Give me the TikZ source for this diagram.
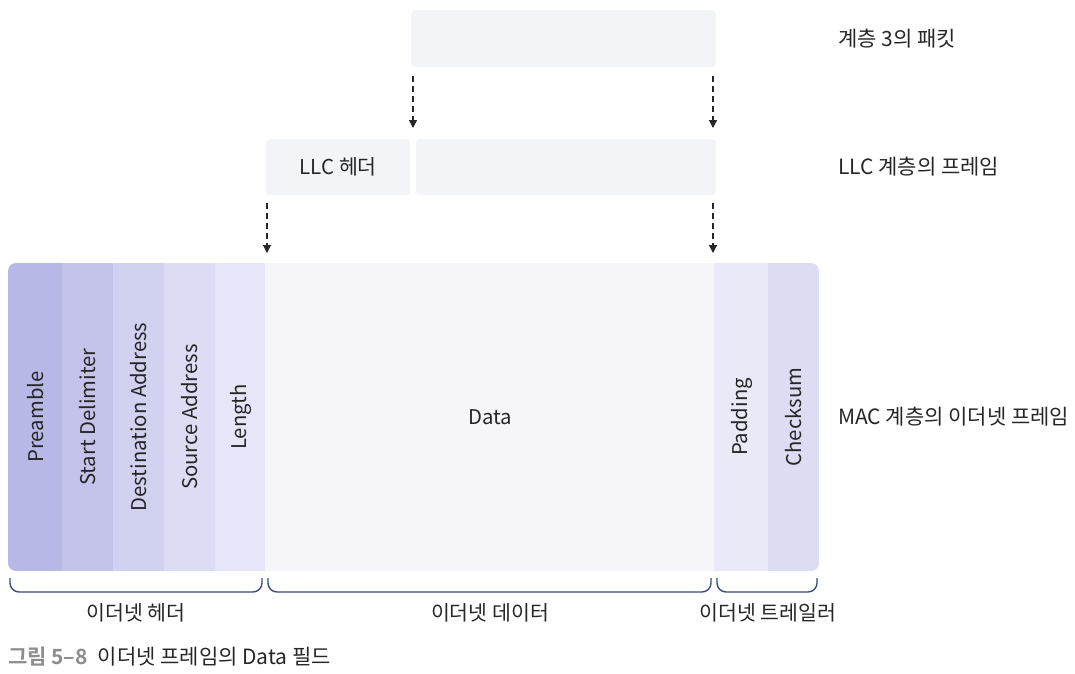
\documentclass[tikz,border=0pt]{standalone}
\usepackage{fontspec}
\setmainfont{Noto Sans CJK KR}[BoldFont={Noto Sans CJK KR Bold}]
\usetikzlibrary{arrows.meta}
\definecolor{txt}{HTML}{262626}
\definecolor{boxc}{HTML}{F3F4F7}
\definecolor{bracec}{HTML}{3D4A7C}
\definecolor{cA}{HTML}{B8B8E6}
\definecolor{cB}{HTML}{C4C4EA}
\definecolor{cC}{HTML}{D1D1F0}
\definecolor{cD}{HTML}{DCDCF4}
\definecolor{cE}{HTML}{E6E6F8}
\definecolor{cF}{HTML}{F6F6FA}
\definecolor{cG}{HTML}{E9E9F8}
\definecolor{cH}{HTML}{DCDCF3}
\definecolor{capg}{HTML}{8C8C8C}
\begin{document}
\begin{tikzpicture}[x=1pt,y=-1pt,
  font=\fontsize{21pt}{24pt}\selectfont, text=txt,
  pbox/.style={fill=boxc, rounded corners=4pt, inner sep=0pt, anchor=north west},
  col/.style={rotate=90, inner sep=0pt, minimum width=308pt, font=\fontsize{20.3pt}{23pt}\selectfont},
  darr/.style={draw=txt, line width=1.1pt, dash pattern=on 6pt off 4pt, -{Triangle[length=8pt,width=8pt]}},
  brc/.style={draw=bracec, line width=1.4pt, rounded corners=9pt},
  lbl/.style={anchor=west, inner sep=0pt},
  blbl/.style={inner sep=0pt}]
\useasboundingbox (0,0) rectangle (1075,673);
% upper boxes
\node[pbox, minimum width=305pt, minimum height=57pt] (l3) at (411,10) {};
\node[pbox, minimum width=144pt, minimum height=56pt, font=\fontsize{20.5pt}{23pt}\selectfont] (llch) at (266,139) {LLC 헤더};
\node[pbox, minimum width=300pt, minimum height=56pt] (llcd) at (416,139) {};
% arrows
\coordinate (a1s) at (413,76);  \coordinate (a1e) at (413,128);
\coordinate (a2s) at (713,76);  \coordinate (a2e) at (713,128);
\coordinate (a3s) at (267,203); \coordinate (a3e) at (267,253);
\coordinate (a4s) at (713,203); \coordinate (a4e) at (713,253);
\draw[darr] (a1s) -- (a1e);
\draw[darr] (a2s) -- (a2e);
\draw[darr] (a3s) -- (a3e);
\draw[darr] (a4s) -- (a4e);
% MAC frame
\begin{scope}
\clip[rounded corners=8pt] (8,263) rectangle (819,571);
\node[col, fill=cA, minimum height=55pt] (pre) at (35.5,417) {Preamble};
\node[col, fill=cB, minimum height=52pt] (sd) at (88,417) {Start Delimiter};
\node[col, fill=cC, minimum height=52pt] (da) at (139,417) {Destination Address};
\node[col, fill=cD, minimum height=52pt] (sa) at (190,417) {Source Address};
\node[col, fill=cE, minimum height=51pt] (len) at (240.5,417) {Length};
\node[fill=cF, inner sep=0pt, minimum width=450pt, minimum height=308pt, font=\fontsize{20.3pt}{23pt}\selectfont] (data) at (490,417) {Data};
\node[col, fill=cG, minimum height=55pt] (pad) at (741.5,417) {Padding};
\node[col, fill=cH, minimum height=52pt] (chk) at (794,417) {Checksum};
\end{scope}
% braces
\draw[brc] (10,578) -- (10,592) -- (262,592) -- (262,578);
\draw[brc] (268,578) -- (268,592) -- (711,592) -- (711,578);
\draw[brc] (717,578) -- (717,592) -- (817,592) -- (817,578);
\node[blbl, font=\fontsize{20.5pt}{23pt}\selectfont] (eh) at (136,613) {이더넷 헤더};
\node[blbl, font=\fontsize{20.5pt}{23pt}\selectfont] (ed) at (490,613) {이더넷 데이터};
\node[blbl, font=\fontsize{20.5pt}{23pt}\selectfont] (et) at (768,613) {이더넷 트레일러};
% right labels
\node[lbl] (r1) at (838,39) {계층 3의 패킷};
\node[lbl] (r2) at (838,167) {LLC 계층의 프레임};
\node[lbl] (r3) at (838,417) {MAC 계층의 이더넷 프레임};
% caption
\node[lbl] (cap) at (8,657) {{\bfseries\color{capg}그림 5–8}\hspace{10pt}이더넷 프레임의 Data 필드};
\end{tikzpicture}
\end{document}
